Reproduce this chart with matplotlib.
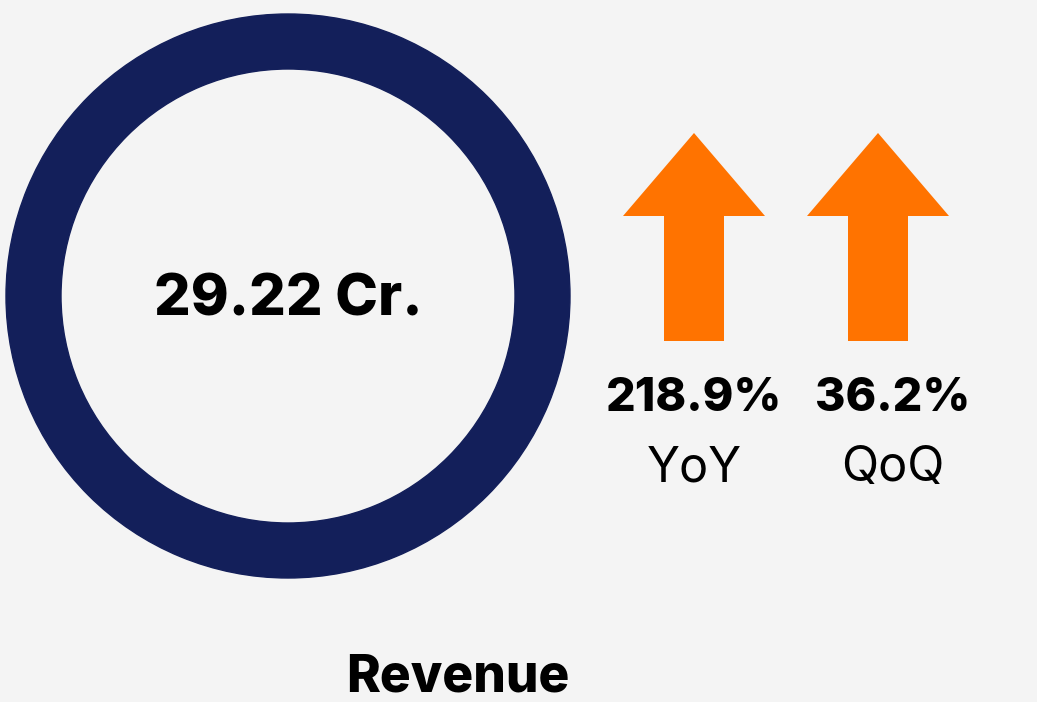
import matplotlib.pyplot as plt
from matplotlib.patches import Wedge, FancyArrow

# KPI data
metric_name = 'Revenue'
metric_value = 29.22
metric_unit = 'Cr.'
change_values = [218.9, 36.2]
change_labels = ['YoY', 'QoQ']
change_direction = ['up', 'up']

navy = '#131F5A'
orange = '#FF7300'
bg = '#F4F4F4'

plt.rcParams['font.family'] = ['Inter', 'DejaVu Sans']

fig = plt.figure(figsize=(10.37, 7.02), dpi=100, facecolor=bg)
ax = fig.add_axes([0, 0, 1, 1])
ax.set_xlim(0, 1037)
ax.set_ylim(702, 0)
ax.set_facecolor(bg)
ax.axis('off')

# ring with the main value
ax.add_patch(Wedge((288, 296), 282, 0, 360, width=55, color=navy))
ax.text(288, 315, f'{metric_value:.2f} {metric_unit}', ha='center', va='baseline',
        fontsize=41.5, fontweight='heavy', color='black')
ax.text(458, 691, metric_name, ha='center', va='baseline',
        fontsize=37, fontweight='heavy', color='black')

# change arrows and labels
arrow_x = [694, 878]
label_x = [694, 893]
for x, tx, val, lab, d in zip(arrow_x, label_x, change_values, change_labels, change_direction):
    sign = -1 if d == 'up' else 1
    y0 = 341 if d == 'up' else 133
    ax.add_patch(FancyArrow(x, y0, 0, sign * 208, width=60, head_width=142,
                            head_length=83, length_includes_head=True,
                            color=orange, linewidth=0))
    ax.text(tx, 411, f'{val:.1f}%', ha='center', va='baseline',
            fontsize=33.5, fontweight='heavy', color='black')
    ax.text(tx, 481, lab, ha='center', va='baseline',
            fontsize=35, color='black')

fig.savefig('out.png', dpi=100, facecolor=bg)
